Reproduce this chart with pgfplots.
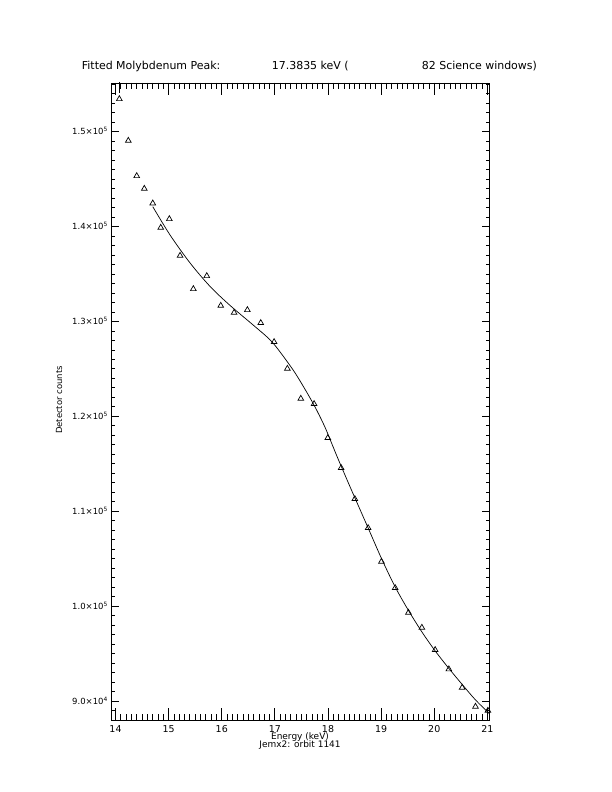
\documentclass[border=0pt]{standalone}
\usepackage{fontspec}
\setmainfont{DejaVu Sans}
\usepackage{pgfplots}
\pgfplotsset{compat=1.18}

% measured counts per energy bin
\pgfplotstableread{
x       y
13.900  154610
14.072  153446
14.241  149052
14.399  145332
14.542  143994
14.701  142455
14.851  139884
15.013  140801
15.215  136934
15.465  133425
15.718  134795
15.981  131666
16.232  130928
16.482  131212
16.734  129843
16.985  127841
17.235  125027
17.488  121866
17.738  121308
17.996  117725
18.247  114564
18.505  111298
18.755  108242
19.006  104691
19.264  101920
19.514   99317
19.767   97737
20.017   95387
20.275   93353
20.525   91414
20.776   89412
21.010   88990
}\counts

% fitted model
\pgfplotstableread{
x       y
14.701  142097
15.026  139115
15.403  136165
15.780  133689
16.156  131687
16.627  129453
16.942  127872
17.254  125596
17.443  124016
17.725  121308
17.945  118832
18.166  115828
18.416  112562
18.755  108242
19.006  105028
19.264  102025
19.514   99549
19.767   97283
20.017   95282
20.275   93437
20.525   91752
20.776   90118
21.043   88643
}\fit

\pgfplotsset{
  frame/.style={
    at={(111bp,72bp)}, anchor=south west,
    scale only axis, width=378.5bp, height=637bp,
    xmin=13.915, xmax=21.04, ymin=88000, ymax=155130,
    axis line style={line width=0.8bp},
    every tick/.append style={black, line width=0.8bp},
  },
}

\begin{document}
\begin{tikzpicture}
\path[use as bounding box] (0bp,0bp) rectangle (612bp,792bp);
% data
\begin{axis}[frame, xtick=\empty, ytick=\empty]
\addplot[only marks, mark=triangle, mark size=3.3bp, mark options={line width=0.7bp}, black] table[x=x,y=y] {\counts};
\addplot[no marks, black, line width=0.7bp, smooth, tension=0.5] table[x=x,y=y] {\fit};
% error bar of the first point, running off the top
\addplot[no marks, black, line width=0.7bp] coordinates {(14.072,155500) (14.072,154100)};
% x tick marks on bottom and top edges (12bp major, 6bp minor)
\pgfplotsinvokeforeach{14,15,...,21}{
  \addplot[no marks, black, line width=0.8bp] coordinates {(#1,88000) (#1,89265)};
  \addplot[no marks, black, line width=0.8bp] coordinates {(#1,155130) (#1,153865)};
}
\pgfplotsinvokeforeach{14.1,14.2,...,20.9}{
  \addplot[no marks, black, line width=0.8bp] coordinates {(#1,88000) (#1,88632)};
  \addplot[no marks, black, line width=0.8bp] coordinates {(#1,155130) (#1,154498)};
}
\end{axis}
% x tick labels
\begin{axis}[frame, ymin=0, ymax=1,
  major tick length=12bp, minor tick length=6bp,
  xtick={14,15,16,17,18,19,20,21},
  minor x tick num=9,
  ytick=\empty,
  /pgf/number format/assume math mode=true,
  xticklabel style={font=\fontsize{9.5}{10}\selectfont, inner sep=0pt, anchor=north, yshift=-5bp},
]
\end{axis}
% y ticks
\begin{axis}[frame,
  major tick length=7.6bp, minor tick length=3.8bp,
  xtick=\empty,
  ytick={90000,100000,110000,120000,130000,140000,150000},
  minor ytick={88000,89000,...,155000},
  yticklabels={9.0×10\textsuperscript{4},1.0×10\textsuperscript{5},1.1×10\textsuperscript{5},1.2×10\textsuperscript{5},1.3×10\textsuperscript{5},1.4×10\textsuperscript{5},1.5×10\textsuperscript{5}},
  yticklabel style={font=\fontsize{8.5}{9}\selectfont, inner sep=0pt, anchor=base east, xshift=-3bp, yshift=-3bp},
  scaled y ticks=false,
]
\end{axis}
\node[anchor=base west, inner sep=0pt, font=\fontsize{11}{13}\selectfont] at (81.7bp,722bp) {Fitted Molybdenum Peak:};
\node[anchor=base west, inner sep=0pt, font=\fontsize{11}{13}\selectfont] at (271.7bp,722bp) {17.3835 keV (};
\node[anchor=base west, inner sep=0pt, font=\fontsize{11}{13}\selectfont] at (421.7bp,722bp) {82 Science windows)};
\node[anchor=base, inner sep=0pt, font=\fontsize{9}{10}\selectfont] at (300bp,52bp) {Energy (keV)};
\node[anchor=base, inner sep=0pt, font=\fontsize{9}{10}\selectfont] at (300bp,44bp) {Jemx2: orbit 1141};
\node[rotate=90, inner sep=0pt, font=\fontsize{8.5}{9}\selectfont] at (59bp,392bp) {Detector counts};
\end{tikzpicture}
\end{document}
